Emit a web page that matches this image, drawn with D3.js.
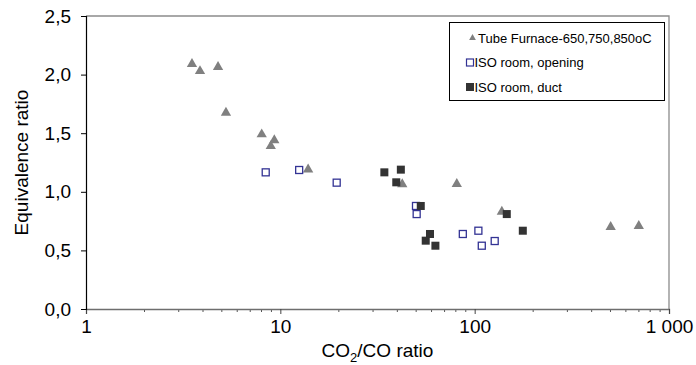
<!DOCTYPE html>
<html>
<head>
<meta charset="utf-8">
<script src="https://cdn.jsdelivr.net/npm/d3@7"></script>
<style>
  html, body { margin: 0; padding: 0; background: #fff; }
  svg { display: block; font-family: "Liberation Sans", Arial, sans-serif; }
</style>
</head>
<body>
<svg id="chart" width="696" height="365"></svg>
<script>
// CO2/CO ratio (x) and equivalence ratio (y) per series
const furnaceX = [3.51, 3.86, 4.78, 5.25, 8.02, 9.31, 8.93, 13.9, 42.4, 80.9, 138, 501, 699];
const furnaceY = [2.09, 2.03, 2.065, 1.675, 1.49, 1.44, 1.39, 1.19, 1.064, 1.067, 0.83, 0.70, 0.708];

const openingX = [8.41, 12.5, 19.5, 49.9, 50.3, 86.9, 104.5, 108.8, 126.8];
const openingY = [1.166, 1.186, 1.078, 0.879, 0.81, 0.64, 0.668, 0.54, 0.58];

const ductX = [34.3, 41.7, 39.5, 52.8, 58.9, 56.0, 62.8, 146.3, 176.9];
const ductY = [1.166, 1.189, 1.081, 0.879, 0.64, 0.583, 0.54, 0.81, 0.668];

const seriesNames = ["Tube Furnace-650,750,850oC", "ISO room, opening", "ISO room, duct"];
const xTickValues = [1, 10, 100, 1000];
const xTickLabels = ["1", "10", "100", "1 000"];
const yTickValues = [0, 0.5, 1.0, 1.5, 2.0, 2.5];
const yTickLabels = ["0,0", "0,5", "1,0", "1,5", "2,0", "2,5"];

const svg = d3.select("#chart");
const plot = { left: 86, right: 669, top: 16, bottom: 309 };

const x = d3.scaleLog().domain([1, 1000]).range([plot.left, plot.right]);
const y = d3.scaleLinear().domain([0, 2.5]).range([plot.bottom, plot.top]);

// plot frame (top and right edges)
svg.append("path")
  .attr("d", `M${plot.left},${plot.top}H${plot.right}V${plot.bottom}`)
  .attr("fill", "none").attr("stroke", "#8c8c8c").attr("stroke-width", 1.3);

// minor x ticks
const minor = [];
for (let d = 1; d < 1000; d *= 10) for (let k = 2; k <= 9; k++) minor.push(d * k);
svg.append("g").selectAll("line").data(minor).join("line")
  .attr("x1", d => x(d)).attr("x2", d => x(d))
  .attr("y1", plot.bottom).attr("y2", plot.bottom + 3)
  .attr("stroke", "#555").attr("stroke-width", 1);

// x axis
const xAxis = svg.append("g")
  .attr("transform", `translate(0,${plot.bottom})`)
  .call(d3.axisBottom(x).tickValues(xTickValues)
    .tickFormat((d, i) => xTickLabels[i]).tickSizeOuter(0).tickSize(5).tickPadding(6));
xAxis.select(".domain").attr("stroke", "#6e6e6e").attr("stroke-width", 1.3);
xAxis.selectAll(".tick line").attr("stroke", "#444");
xAxis.selectAll("text").attr("font-size", 19).attr("fill", "#000");

// y axis
const yAxis = svg.append("g")
  .attr("transform", `translate(${plot.left},0)`)
  .call(d3.axisLeft(y).tickValues(yTickValues)
    .tickFormat((d, i) => yTickLabels[i]).tickSizeOuter(0).tickSize(5).tickPadding(10));
yAxis.select(".domain").attr("stroke", "#000").attr("stroke-width", 1.2);
yAxis.selectAll(".tick line").attr("stroke", "#000");
yAxis.selectAll("text").attr("font-size", 19).attr("fill", "#000");

// axis titles
const xTitle = svg.append("text")
  .attr("x", (plot.left + plot.right) / 2).attr("y", 357)
  .attr("text-anchor", "middle").attr("font-size", 19).attr("fill", "#000");
xTitle.append("tspan").text("CO");
xTitle.append("tspan").attr("font-size", 13).attr("dy", 5).text("2");
xTitle.append("tspan").attr("dy", -5).text("/CO ratio");

svg.append("text")
  .attr("transform", `translate(28,${(plot.top + plot.bottom) / 2}) rotate(-90)`)
  .attr("text-anchor", "middle").attr("font-size", 19).attr("fill", "#000")
  .text("Equivalence ratio");

// markers
const triangle = d3.symbol().type(d3.symbolTriangle).size(46);
const triColor = "#808080", openColor = "#333394", ductColor = "#333333";

svg.append("g").selectAll("path").data(d3.zip(furnaceX, furnaceY)).join("path")
  .attr("d", triangle)
  .attr("transform", d => `translate(${x(d[0])},${y(d[1])})`)
  .attr("fill", triColor);

svg.append("g").selectAll("rect").data(d3.zip(openingX, openingY)).join("rect")
  .attr("x", d => x(d[0]) - 3.5).attr("y", d => y(d[1]) - 3.5)
  .attr("width", 7).attr("height", 7)
  .attr("fill", "#fff").attr("stroke", openColor).attr("stroke-width", 1.3);

svg.append("g").selectAll("rect").data(d3.zip(ductX, ductY)).join("rect")
  .attr("x", d => x(d[0]) - 4).attr("y", d => y(d[1]) - 4)
  .attr("width", 8).attr("height", 8)
  .attr("fill", ductColor);

// legend
const lg = svg.append("g");
lg.append("rect").attr("x", 449.5).attr("y", 22.5).attr("width", 215).attr("height", 78)
  .attr("fill", "#fff").attr("stroke", "#000").attr("stroke-width", 1);
const rows = [38, 62.5, 87];
lg.append("path").attr("d", d3.symbol().type(d3.symbolTriangle).size(20))
  .attr("transform", `translate(472.5,${rows[0]})`).attr("fill", triColor);
lg.append("rect").attr("x", 466.5).attr("y", rows[1] - 3.5).attr("width", 7).attr("height", 7)
  .attr("fill", "#fff").attr("stroke", openColor).attr("stroke-width", 1.2);
lg.append("rect").attr("x", 466).attr("y", rows[2] - 4).attr("width", 8).attr("height", 8)
  .attr("fill", ductColor);
lg.selectAll("text.lbl").data(seriesNames).join("text")
  .attr("class", "lbl")
  .attr("x", (d, i) => i === 0 ? 478 : 474.5)
  .attr("y", (d, i) => rows[i])
  .attr("dy", "0.35em")
  .attr("font-size", 13).attr("fill", "#000")
  .text(d => d);
</script>
</body>
</html>
